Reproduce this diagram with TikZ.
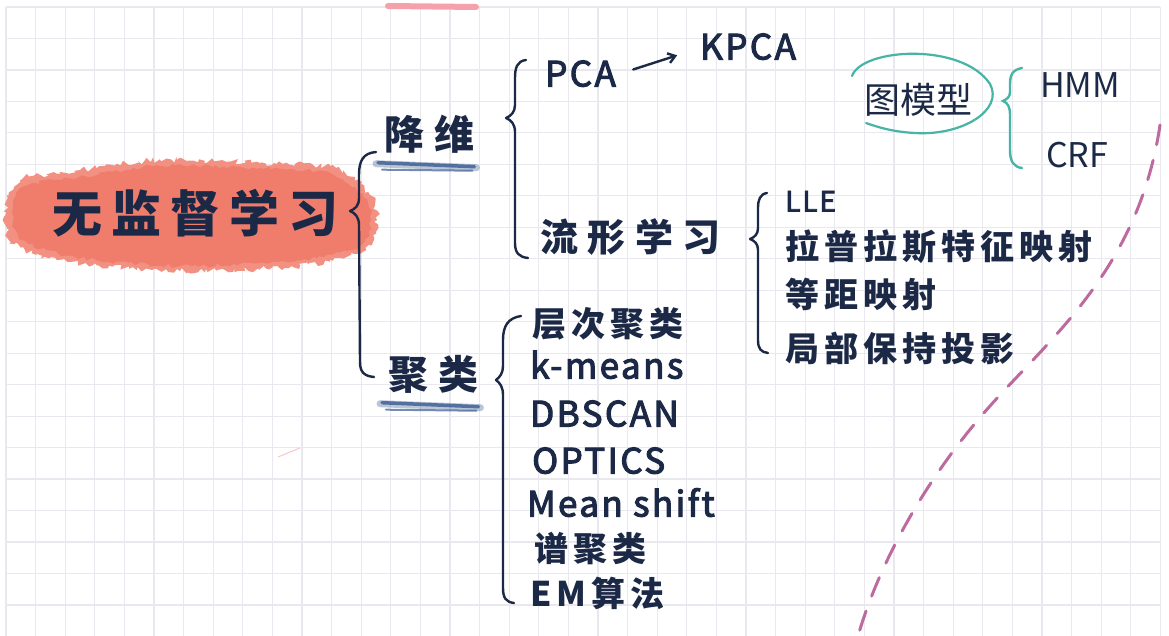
\documentclass[tikz,border=0pt]{standalone}
\usepackage{fontspec}
\setmainfont{Noto Sans CJK SC}[LetterSpace=15]
\newfontfamily\titlefont{Noto Sans CJK SC}[LetterSpace=18]
\newfontfamily\headfont{Noto Sans CJK SC}[LetterSpace=25]
\newfontfamily\latfont{Noto Sans CJK SC}[LetterSpace=7, FakeBold=3]
\newfontfamily\handfont{Noto Sans CJK SC}
\usetikzlibrary{arrows.meta, positioning, calc, decorations.pathmorphing}
\definecolor{Ink}{RGB}{27, 40, 70}
\definecolor{Brush}{RGB}{240, 124, 108}
\definecolor{Smudge}{RGB}{58, 92, 146}
\definecolor{Teal}{RGB}{70, 180, 166}
\definecolor{Plum}{RGB}{178, 82, 142}
\definecolor{GridGray}{RGB}{232, 232, 238}
\definecolor{Blush}{RGB}{246, 160, 172}

\begin{document}
\begin{tikzpicture}[x=1pt, y=-1pt, inner sep=0pt, text=Ink,
  lbl/.style={anchor=west, text height=27pt, text depth=4pt, font=\fontsize{34}{38}\selectfont\bfseries},
  lat/.style={lbl, font=\latfont\fontsize{35}{40}\selectfont},
  head/.style={lbl, text height=32pt, text depth=5pt, font=\headfont\fontsize{40}{44}\selectfont\bfseries},
  thin/.style={anchor=west, font=\handfont\fontsize{34}{38}\selectfont},
  brc/.style={draw=Ink, line width=2.4pt, line cap=round, line join=round},
  smudge/.style={draw=Smudge, line cap=round},
  ar/.style={-{Straight Barb[length=7pt, width=10pt]}, line width=2.4pt, Ink, line cap=round}]
\useasboundingbox (0,0) rectangle (1169,636);
\fill[white] (0,0) rectangle (1169,636);
% squared paper
\foreach \i in {0,...,39} \draw[GridGray, line width=1.2pt] (6+29.6*\i,7) -- (6+29.6*\i,636);
\foreach \j in {0,...,19} \draw[GridGray, line width=1.2pt] (6,7+31.47*\j) -- (1160,7+31.47*\j);
\draw[Blush, line width=6pt, line cap=round] (388,6) -- (476,7);
\draw[Blush!60, line width=1pt] (278,457) -- (300,448);
% brush stroke behind the title
\fill[Brush!85, decorate, decoration={random steps, segment length=3pt, amplitude=3pt}]
  plot[smooth cycle] coordinates {(6,212) (20,180) (80,170) (160,160) (260,163) (336,168) (370,195) (377,220) (366,250) (300,266) (180,271) (70,262) (14,244)};
\fill[Brush, decorate, decoration={random steps, segment length=4pt, amplitude=2pt}]
  plot[smooth cycle] coordinates {(12,212) (26,186) (85,176) (160,166) (260,168) (332,174) (364,198) (371,220) (359,246) (298,260) (180,266) (75,257) (22,240)};
% nodes
\node[anchor=west, font=\titlefont\fontsize{50}{54}\selectfont\bfseries] (root) at (52,213) {无监督学习};
\node[head] (jw) at (384,136) {降维};
\node[head] (jl) at (388,376) {聚类};
\node[lat] (pca) at (545,75) {PCA};
\node[lat] (kpca) at (700,48) {KPCA};
\node[head, font=\headfont\fontsize{38}{42}\selectfont\bfseries] (lx) at (540,238) {流形学习};
\node[lat, font=\latfont\fontsize{28}{32}\selectfont] (m1) at (785,200) {LLE};
\node[lbl] (m2) at (785,248) {拉普拉斯特征映射};
\node[lbl] (m3) at (785,296) {等距映射};
\node[lbl] (m4) at (785,350) {局部保持投影};
\node[lbl] (c1) at (532,325) {层次聚类};
\node[lat] (c2) at (530,367) {k-means};
\node[lat] (c3) at (530,415) {DBSCAN};
\node[lat] (c4) at (532,462) {OPTICS};
\node[lat] (c5) at (527,505) {Mean shift};
\node[lbl] (c6) at (534,550) {谱聚类};
\node[lbl] (c7) at (530,595) {EM算法};
\node[thin, font=\handfont\fontsize{36}{40}\selectfont] (tmx) at (864,100) {图模型};
\node[thin] (hmm) at (1040,85) {HMM};
\node[thin] (crf) at (1046,155) {CRF};
% underlines
\foreach \n in {jw, jl} {
  \draw[smudge, line width=7pt, opacity=0.35] ([xshift=-8pt, yshift=-9pt]\n.south west) -- ([xshift=2pt, yshift=-13pt]\n.south east);
  \draw[smudge, line width=3.5pt, opacity=0.8] ([xshift=-6pt, yshift=-8pt]\n.south west) -- ([xshift=0pt, yshift=-12pt]\n.south east);
  \draw[smudge, line width=2pt, opacity=0.7] ([xshift=-2pt, yshift=-15pt]\n.south west) -- ([xshift=-2pt, yshift=-16pt]\n.south east);
}
% braces
\draw[brc] (376,152) .. controls (363,153) and (359,161) .. (359,175) -- (359,198) .. controls (359,206) and (355,209) .. (350,211)
  .. controls (355,213) and (359,217) .. (359,225) -- (360,362) .. controls (360,372) and (364,376) .. (374,377);
\draw[brc] (526,60) .. controls (517,61) and (515,68) .. (515,78) -- (515,105) .. controls (515,112) and (511,116) .. (506,118)
  .. controls (511,120) and (515,124) .. (515,132) -- (515,243) .. controls (515,253) and (519,257) .. (528,258);
\draw[brc] (767,193) .. controls (760,194) and (758,200) .. (758,208) -- (758,228) .. controls (758,234) and (755,237) .. (750,239)
  .. controls (755,241) and (758,244) .. (758,250) -- (758,340) .. controls (758,349) and (761,352) .. (768,353);
\draw[brc] (521,316) .. controls (508,318) and (503,326) .. (503,340) -- (503,366) .. controls (503,373) and (500,377) .. (496,380)
  .. controls (500,383) and (503,387) .. (503,395) -- (503,588) .. controls (503,598) and (506,602) .. (514,603);
\draw[ar, shorten <=18pt, shorten >=24pt] (pca.east) -- (kpca.west);
% graph model
\draw[Teal, line width=2.2pt, line cap=round] (852,76) .. controls (862,48) and (962,42) .. (990,84)
  .. controls (1004,110) and (962,136) .. (915,133) .. controls (895,132) and (880,128) .. (866,123);
\draw[Teal, line width=2.4pt, line cap=round] (1022,68) .. controls (1012,70) and (1010,75) .. (1010,85) -- (1010,92)
  .. controls (1010,97) and (1007,99) .. (1003,101) .. controls (1008,103) and (1010,107) .. (1010,115) -- (1010,150)
  .. controls (1010,162) and (1014,167) .. (1022,168);
% dashed margin line
\draw[Plum, line width=3pt, line cap=round, dash pattern=on 20pt off 16pt, opacity=0.85]
  (1160,125) .. controls (1140,260) and (1060,330) .. (1000,395) .. controls (930,470) and (880,560) .. (858,636);
\end{tikzpicture}
\end{document}
